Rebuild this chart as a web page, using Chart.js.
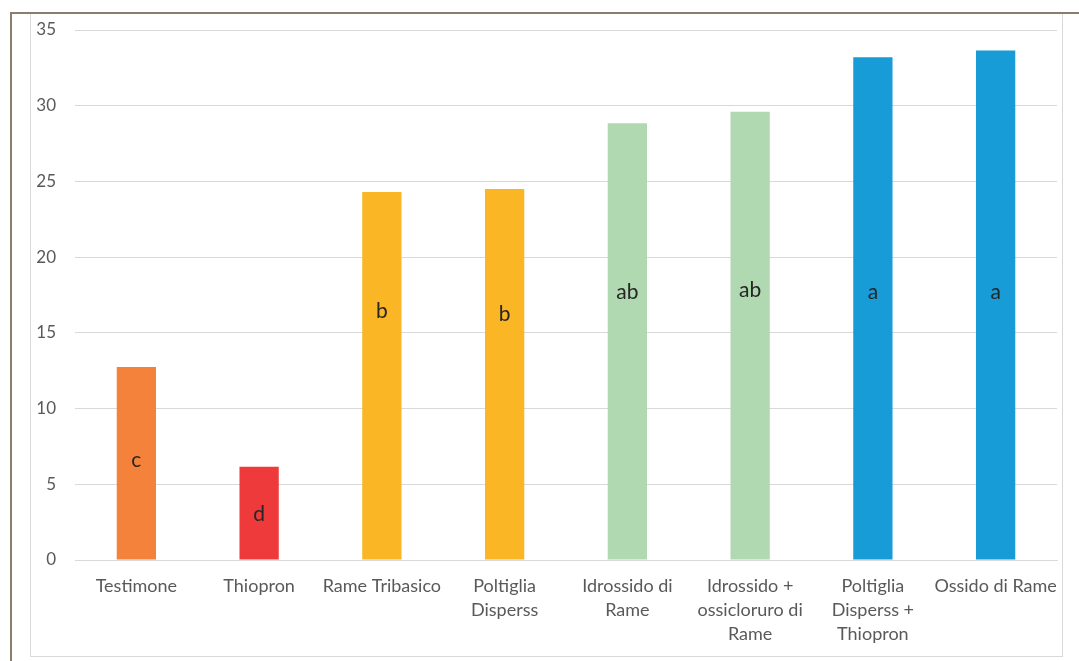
<!DOCTYPE html>
<html>
<head>
<meta charset="utf-8">
<script src="https://cdn.jsdelivr.net/npm/chart.js@4/dist/chart.umd.min.js"></script>
<style>
  body { margin: 0; background: #fff; }
  #wrap { position: relative; width: 1079px; height: 661px; overflow: hidden; }
  #outer { position: absolute; left: 10px; top: 12px; width: 1100px; height: 700px;
           border-left: 2px solid #8a7d6c; border-top: 2px solid #8a7d6c; }
  #inner { position: absolute; left: 30px; top: 14px; width: 1031px; height: 642px;
           border-left: 1px solid #d9d9d9; border-right: 1px solid #d9d9d9; border-bottom: 1px solid #d9d9d9; }
  canvas { position: absolute; left: 0; top: 0; }
</style>
</head>
<body>
<div id="wrap">
  <div id="outer"></div>
  <div id="inner"></div>
  <canvas id="myChart" width="1079" height="661"></canvas>
</div>
<script>
const categories = [
    'Testimone',
    'Thiopron',
    'Rame Tribasico',
    ['Poltiglia', 'Disperss'],
    ['Idrossido di', 'Rame'],
    ['Idrossido +', 'ossicloruro di', 'Rame'],
    ['Poltiglia', 'Disperss +', 'Thiopron'],
    'Ossido di Rame'
];
const values = [12.75, 6.15, 24.3, 24.5, 28.85, 29.6, 33.2, 33.65];
const letters = ['c', 'd', 'b', 'b', 'ab', 'ab', 'a', 'a'];
const letterAt = [6.6, 3.0, 16.4, 16.2, 17.7, 17.8, 17.7, 17.7];
const barColors = ['#F4823B', '#EE3A3B', '#FBB626', '#B0D9B1', '#179CD8'];
const colorIndex = [0, 1, 2, 2, 3, 3, 4, 4];

const letterPlugin = {
    id: 'letters',
    afterDatasetsDraw(chart) {
        const ctx = chart.ctx;
        const meta = chart.getDatasetMeta(0);
        const y = chart.scales.y;
        ctx.save();
        ctx.font = '21px Lato, "Open Sans", sans-serif';
        ctx.fillStyle = '#262626';
        ctx.textAlign = 'center';
        ctx.textBaseline = 'middle';
        meta.data.forEach((bar, i) => {
            ctx.fillText(letters[i], bar.x, y.getPixelForValue(letterAt[i]));
        });
        ctx.restore();
    }
};

const ctx = document.getElementById('myChart').getContext('2d');
const myChart = new Chart(ctx, {
    type: 'bar',
    data: {
        labels: categories,
        datasets: [{
            data: values,
            backgroundColor: colorIndex.map(i => barColors[i]),
            categoryPercentage: 1,
            barPercentage: 0.32
        }]
    },
    options: {
        responsive: false,
        animation: false,
        layout: { padding: { left: 30, right: 22, top: 30, bottom: 4 } },
        plugins: { legend: { display: false }, tooltip: { enabled: false } },
        scales: {
            x: {
                grid: { display: false, drawTicks: false },
                border: { color: '#d9d9d9', width: 1 },
                ticks: {
                    color: '#595959',
                    font: { family: 'Lato, "Open Sans", sans-serif', size: 18, lineHeight: 1.33 },
                    padding: 14,
                    maxRotation: 0,
                    autoSkip: false
                },
                afterFit: s => { s.height = 97; }
            },
            y: {
                min: 0,
                max: 35,
                grid: { color: '#d9d9d9', drawTicks: false },
                border: { display: false },
                ticks: {
                    stepSize: 5,
                    color: '#595959',
                    font: { family: 'Lato, "Open Sans", sans-serif', size: 17 },
                    padding: 19
                },
                afterFit: s => { s.width = 45; }
            }
        }
    },
    plugins: [letterPlugin]
});
</script>
</body>
</html>
